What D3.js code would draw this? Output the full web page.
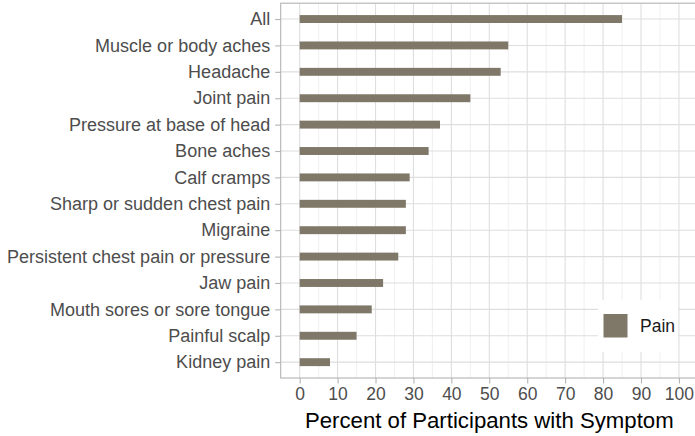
<!DOCTYPE html>
<html>
<head>
<meta charset="utf-8">
<script src="https://cdn.jsdelivr.net/npm/d3@7"></script>
<style>
  body { margin: 0; background: #fff; }
  svg { font-family: "Liberation Sans", Arial, sans-serif; display: block; }
</style>
</head>
<body>
<svg width="695" height="436"></svg>
<script>
// symptoms, top to bottom
var symptoms = ["All", "Muscle or body aches", "Headache", "Joint pain",
  "Pressure at base of head", "Bone aches", "Calf cramps",
  "Sharp or sudden chest pain", "Migraine", "Persistent chest pain or pressure",
  "Jaw pain", "Mouth sores or sore tongue", "Painful scalp", "Kidney pain"];
var percents = [85, 55, 53, 45, 37, 34, 29, 28, 28, 26, 22, 19, 15, 8];
var xTicks = [0, 10, 20, 30, 40, 50, 60, 70, 80, 90, 100];
var xMinor = [5, 15, 25, 35, 45, 55, 65, 75, 85, 95];
var seriesName = "Pain";

var barColor = "#7f7869";
var svg = d3.select("svg");

var x = d3.scaleLinear().domain([-5, 105]).range([280.7, 697.9]);
var y = d3.scalePoint().domain(symptoms).range([3.2, 378]).padding(0.6);
var top_ = 3.2, bottom = 378, left = 280.7, right = 697.9;

var g = svg.append("g");

// minor grid
g.selectAll(".minor").data(xMinor).enter().append("line")
  .attr("x1", d => x(d)).attr("x2", d => x(d))
  .attr("y1", top_).attr("y2", bottom)
  .attr("stroke", "#e6e6e6").attr("stroke-width", 0.6);

// major grid
g.selectAll(".vmaj").data(xTicks).enter().append("line")
  .attr("x1", d => x(d)).attr("x2", d => x(d))
  .attr("y1", top_).attr("y2", bottom)
  .attr("stroke", "#dedede").attr("stroke-width", 1.1);
g.selectAll(".hmaj").data(symptoms).enter().append("line")
  .attr("x1", left).attr("x2", right)
  .attr("y1", d => y(d)).attr("y2", d => y(d))
  .attr("stroke", "#dedede").attr("stroke-width", 1.1);

// bars
var bh = y.step() * 0.3;
g.selectAll(".bar").data(symptoms).enter().append("rect")
  .attr("x", x(0))
  .attr("y", d => y(d) - bh / 2)
  .attr("width", (d, i) => x(percents[i]) - x(0))
  .attr("height", bh)
  .attr("fill", barColor);

// legend
var lg = svg.append("g");
lg.append("rect").attr("x", 598).attr("y", 300).attr("width", 80).attr("height", 52)
  .attr("fill", "#fff");
lg.append("rect").attr("x", 603.5).attr("y", 314).attr("width", 24).attr("height", 23.5)
  .attr("fill", barColor);
lg.append("text").attr("x", 640).attr("y", 326).attr("dy", "0.35em")
  .attr("font-size", 17.5).attr("fill", "#1a1a1a").text(seriesName);

// panel border
svg.append("rect").attr("x", left).attr("y", top_)
  .attr("width", right - left).attr("height", bottom - top_)
  .attr("fill", "none").attr("stroke", "#b3b3b3").attr("stroke-width", 1.1);

// axes
var yAxis = svg.append("g").attr("transform", "translate(" + left + ",0)")
  .call(d3.axisLeft(y).tickSize(5.5).tickPadding(5));
var xAxis = svg.append("g").attr("transform", "translate(0," + bottom + ")")
  .call(d3.axisBottom(x).tickValues(xTicks).tickSize(5.5).tickPadding(4));
[yAxis, xAxis].forEach(a => {
  a.select(".domain").remove();
  a.selectAll("line").attr("stroke", "#b3b3b3").attr("stroke-width", 1.1);
  a.selectAll("text").attr("fill", "#4d4d4d")
    .style("font-family", "Liberation Sans, Arial, sans-serif");
});
yAxis.selectAll("text").attr("font-size", 18);
xAxis.selectAll("text").attr("font-size", 17.5);

svg.append("text")
  .attr("x", (left + right) / 2).attr("y", 428)
  .attr("text-anchor", "middle").attr("font-size", 22.2).attr("fill", "#000")
  .text("Percent of Participants with Symptom");
</script>
</body>
</html>
